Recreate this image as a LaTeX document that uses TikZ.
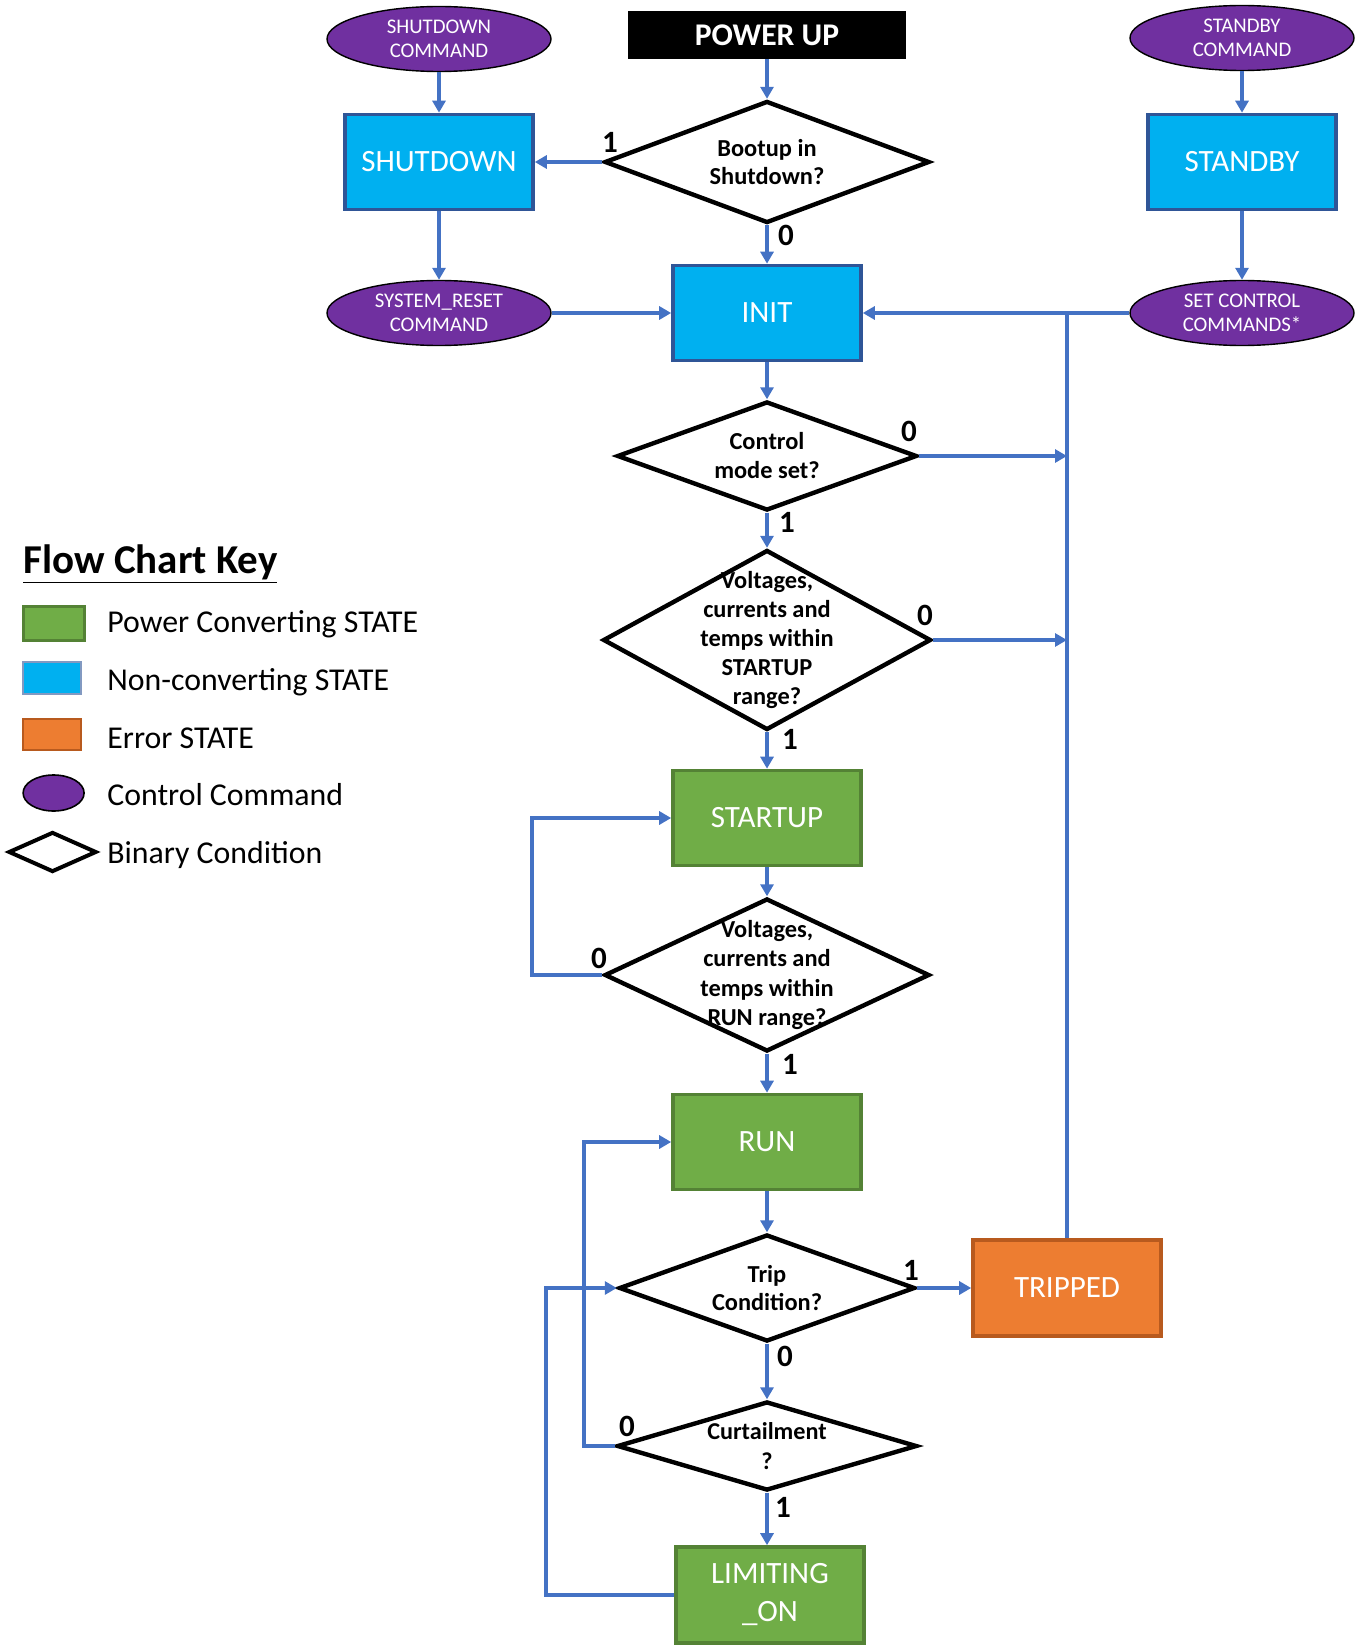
\documentclass[tikz,border=0pt]{standalone}
\usepackage{fontspec}
\setmainfont{Carlito}
\usetikzlibrary{shapes.geometric,arrows.meta}
\definecolor{flowblue}{HTML}{4472C4}
\definecolor{ncfill}{HTML}{00B0F0}
\definecolor{ncdraw}{HTML}{2F5597}
\definecolor{pcfill}{HTML}{70AD47}
\definecolor{pcdraw}{HTML}{548235}
\definecolor{erfill}{HTML}{ED7D31}
\definecolor{erdraw}{HTML}{B85A1E}
\definecolor{cmdpur}{HTML}{7030A0}
\newcommand\fsz[2]{\fontsize{#1}{#2}\selectfont}
\begin{document}
\begin{tikzpicture}[x=0.5pt,y=-0.5pt,
  statebox/.style={rectangle, draw, line width=1.8pt, minimum width=94pt, minimum height=47.5pt, inner sep=0pt, text=white, font=\fsz{15.5}{19}, align=center},
  ncstate/.style={statebox, fill=ncfill, draw=ncdraw},
  pcstate/.style={statebox, fill=pcfill, draw=pcdraw},
  erstate/.style={statebox, fill=erfill, draw=erdraw},
  cmd/.style={ellipse, draw=black, line width=0.7pt, fill=cmdpur, text=white, minimum width=112pt, minimum height=32.5pt, inner sep=0pt, font=\fsz{10.4}{12}, align=center},
  cond/.style={diamond, draw=black, line width=2.2pt, fill=white, inner sep=0pt},
  condtext/.style={align=center, inner sep=0pt, font=\bfseries\fsz{12.2}{14}},
  flow/.style={draw=flowblue, line width=2pt, -{Triangle[length=6pt,width=6.5pt]}},
  flowline/.style={draw=flowblue, line width=2pt},
  lbl/.style={font=\bfseries\fsz{15.5}{16}, inner sep=0pt},
  keytext/.style={anchor=base west, inner sep=0pt, font=\fsz{15.9}{18}}
]
\useasboundingbox (0,0) rectangle (1364,1648);

% ---- top row
\node[rectangle, fill=black, text=white, minimum width=139pt, minimum height=24pt, inner sep=0pt, font=\bfseries\fsz{15.8}{18}] (power) at (767,35) {POWER UP};
\node[cmd] (shutcmd) at (439,39) {SHUTDOWN\\COMMAND};
\node[cmd] (stbcmd) at (1242,38) {STANDBY\\COMMAND};

\node[cond, minimum width=162.5pt, minimum height=61pt] (d1) at (767,162) {};
\node[condtext] (d1t) at (d1.center) {Bootup in\\Shutdown?};

\node[ncstate] (shutdown) at (439,162) {SHUTDOWN};
\node[ncstate] (standby) at (1242,162) {STANDBY};

\node[cmd] (sysreset) at (439,313) {SYSTEM\_RESET\\COMMAND};
\node[ncstate] (init) at (767,313) {INIT};
\node[cmd] (setctrl) at (1242,313) {SET CONTROL\\COMMANDS*};

% ---- conditions / states
\node[cond, minimum width=150pt, minimum height=54.5pt] (d2) at (767,456) {};
\node[condtext, font=\bfseries\fsz{12.2}{14.5}] (d2t) at (d2.center) {Control\\mode set?};

\node[cond, minimum width=164pt, minimum height=90pt] (d3) at (767,640) {};
\node[condtext, font=\bfseries\fsz{12.2}{14.6}] (d3t) at (d3.center) {Voltages,\\currents and\\temps within\\STARTUP\\range?};

\node[pcstate] (startup) at (767,818) {STARTUP};

\node[cond, minimum width=162.5pt, minimum height=76.5pt] (d4) at (767,975) {};
\node[condtext, font=\bfseries\fsz{12.2}{14.6}] (d4t) at (d4.center) {Voltages,\\currents and\\temps within\\RUN range?};

\node[pcstate] (run) at (767,1142) {RUN};

\node[cond, minimum width=148pt, minimum height=53.5pt] (d5) at (767,1288) {};
\node[condtext] (d5t) at (d5.center) {Trip\\Condition?};

\node[erstate, minimum height=48pt] (tripped) at (1067,1288) {TRIPPED};

\node[cond, minimum width=150pt, minimum height=44.5pt] (d6) at (767,1446) {};
\node[condtext, font=\bfseries\fsz{12.1}{15}] (d6t) at (d6.center) {Curtailment\\?};

\node[pcstate, minimum height=48pt] (limiting) at (770,1595) {LIMITING\\\_ON};

% ---- helper coordinates for loop columns
\coordinate (colA) at (532,900);
\coordinate (colB) at (584,1300);
\coordinate (colC) at (546,1450);

% ---- connectors
\draw[flow] (shutcmd) -- (shutdown);
\draw[flow] (power) -- (d1);
\draw[flow] (d1.west) -- (d1.west -| shutdown.east);
\draw[flow] (d1.south) -- (init.north);
\draw[flow] (shutdown) -- (sysreset);
\draw[flow] (sysreset.east) -- (sysreset.east -| init.west);
\draw[flow] (stbcmd) -- (standby);
\draw[flow] (standby) -- (setctrl);
\draw[flow] (setctrl.west) -- (setctrl.west -| init.east);
\draw[flowline] (tripped.north) -- (tripped.north |- setctrl.west);
\draw[flow] (init.south) -- (d2.north);
\draw[flow] (d2.east) -- (d2.east -| tripped.north);
\draw[flow] (d2.south) -- (d3.north);
\draw[flow] (d3.east) -- (d3.east -| tripped.north);
\draw[flow] (d3.south) -- (startup.north);
\draw[flow] (startup.south) -- (d4.north);
\draw[flow] (d4.west) -- (d4.west -| colA) -- (startup.west -| colA) -- (startup.west);
\draw[flow] (d4.south) -- (run.north);
\draw[flow] (run.south) -- (d5.north);
\draw[flow] (d5.east) -- (d5.east -| tripped.west);
\draw[flow] (d5.south) -- (d6.north);
\draw[flow] (d6.south) -- (d6.south |- limiting.north);
\draw[flow] (d6.west) -- (d6.west -| colB) -- (run.west -| colB) -- (run.west);
\draw[flow] (limiting.west) -- (limiting.west -| colC) -- (d5.west -| colC) -- (d5.west);

% ---- branch labels
\node[lbl] (l1a) at (610,142) {1};
\node[lbl] (l1b) at (786,235) {0};
\node[lbl] (l2a) at (909,431) {0};
\node[lbl] (l2b) at (787,522) {1};
\node[lbl] (l3a) at (925,615) {0};
\node[lbl] (l3b) at (790,739) {1};
\node[lbl] (l4a) at (599,958) {0};
\node[lbl] (l4b) at (790,1064) {1};
\node[lbl] (l5a) at (911,1270) {1};
\node[lbl] (l5b) at (785,1356) {0};
\node[lbl] (l6a) at (627,1426) {0};
\node[lbl] (l6b) at (783,1507) {1};

% ---- key
\node[anchor=base west, inner sep=0pt, font=\bfseries\fsz{20.5}{22}] (keytitle) at (23,573) {\underline{Flow Chart Key}};
\node[rectangle, fill=pcfill, draw=pcdraw, line width=1.5pt, minimum width=30.5pt, minimum height=17pt, inner sep=0pt] (kpc) at (53.5,623) {};
\node[rectangle, fill=ncfill, draw=ncdraw!60, line width=0.6pt, minimum width=29pt, minimum height=16pt, inner sep=0pt] (knc) at (52,678) {};
\node[rectangle, fill=erfill, draw=erdraw, line width=0.8pt, minimum width=29pt, minimum height=15.5pt, inner sep=0pt] (ker) at (52,734.5) {};
\node[ellipse, fill=cmdpur, draw=black, line width=0.8pt, minimum width=30.5pt, minimum height=18pt, inner sep=0pt] (kcmd) at (53.6,793) {};
\node[diamond, fill=white, draw=black, line width=2pt, minimum width=44pt, minimum height=20pt, inner sep=0pt] (kcond) at (52.5,852) {};
\node[keytext] (kpct) at (107,632) {Power Converting STATE};
\node[keytext] (knct) at (107,690) {Non-converting STATE};
\node[keytext] (kert) at (107,748) {Error STATE};
\node[keytext] (kcmdt) at (107,805) {Control Command};
\node[keytext] (kcondt) at (107,863) {Binary Condition};
\end{tikzpicture}
\end{document}
